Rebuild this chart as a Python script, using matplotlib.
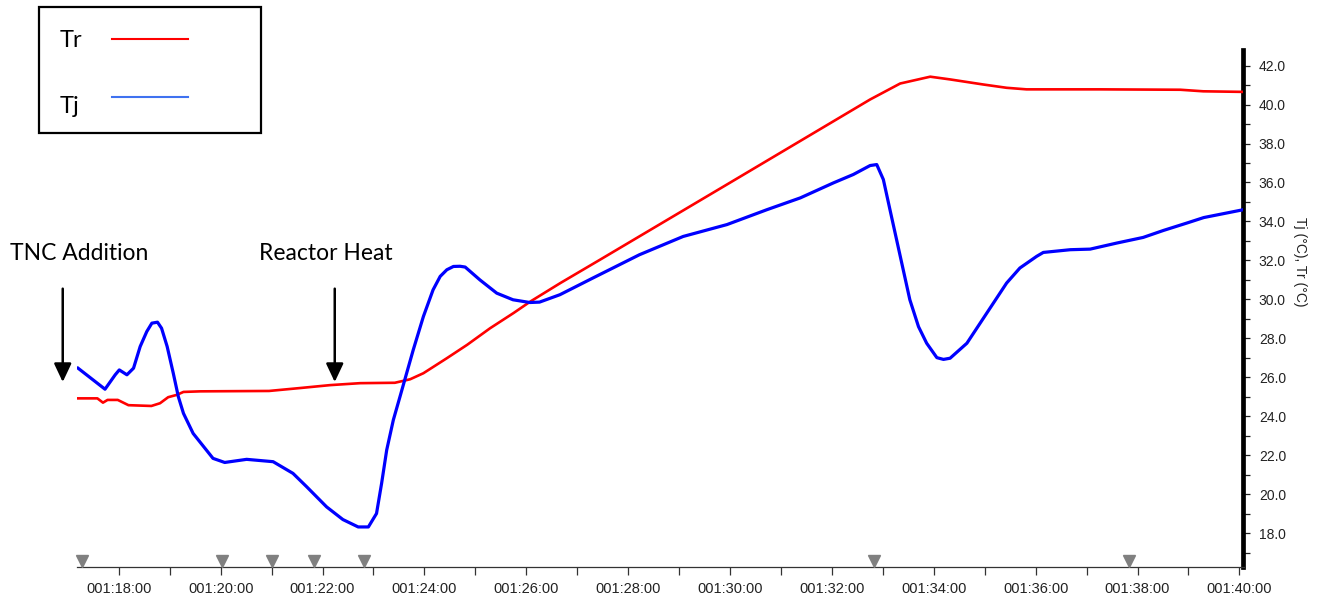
import matplotlib
matplotlib.use("Agg")
from matplotlib import pyplot as plt
from matplotlib.lines import Line2D
from matplotlib.patches import Rectangle
from matplotlib.ticker import MultipleLocator, FuncFormatter
import matplotlib.transforms as mtransforms

# time in minutes, temperatures in degC
tr_time = [17.18, 17.58, 17.69, 17.78, 17.98, 18.19, 18.64, 18.81, 18.97, 19.14,
           19.27, 19.60, 20.95, 21.56, 22.15, 22.74, 23.42, 23.72, 23.98, 24.44,
           24.84, 25.29, 25.75, 26.08, 26.67, 27.45, 29.98, 32.75, 33.34, 33.93,
           34.32, 34.97, 35.43, 35.82, 37.26, 38.84, 39.29, 40.08]
tr_temp = [24.92, 24.92, 24.70, 24.84, 24.84, 24.57, 24.53, 24.67, 24.98, 25.10,
           25.25, 25.28, 25.30, 25.45, 25.60, 25.70, 25.72, 25.90, 26.21, 26.98,
           27.67, 28.52, 29.30, 29.89, 30.84, 32.04, 35.96, 40.26, 41.08, 41.43,
           41.29, 41.03, 40.86, 40.78, 40.78, 40.76, 40.68, 40.65]

tj_time = [17.20, 17.73, 17.93, 18.01, 18.16, 18.29, 18.42, 18.55, 18.65, 18.76,
           18.84, 18.95, 19.07, 19.17, 19.27, 19.46, 19.85, 20.08, 20.51, 21.03,
           21.42, 21.69, 22.08, 22.40, 22.70, 22.90, 23.06, 23.16, 23.26, 23.39,
           23.52, 23.78, 23.98, 24.17, 24.31, 24.44, 24.57, 24.70, 24.80, 25.09,
           25.42, 25.74, 26.07, 26.26, 26.66, 27.31, 28.22, 29.08, 29.94, 30.72,
           31.38, 32.03, 32.42, 32.75, 32.88, 33.01, 33.14, 33.27, 33.40, 33.53,
           33.70, 33.86, 34.06, 34.19, 34.32, 34.65, 34.91, 35.17, 35.43, 35.69,
           36.02, 36.15, 36.68, 37.07, 37.59, 38.11, 38.51, 38.97, 39.30, 40.07]
tj_temp = [26.47, 25.39, 26.13, 26.38, 26.13, 26.47, 27.58, 28.35, 28.78, 28.83,
           28.52, 27.58, 26.21, 25.00, 24.15, 23.12, 21.84, 21.63, 21.79, 21.67,
           21.07, 20.38, 19.35, 18.70, 18.32, 18.32, 19.01, 20.56, 22.27, 23.81,
           25.00, 27.40, 29.12, 30.49, 31.18, 31.52, 31.69, 31.70, 31.66, 31.00,
           30.32, 29.98, 29.84, 29.86, 30.24, 31.10, 32.29, 33.23, 33.84, 34.60,
           35.21, 35.98, 36.41, 36.87, 36.92, 36.15, 34.60, 33.06, 31.52, 29.98,
           28.60, 27.75, 27.01, 26.92, 26.98, 27.75, 28.78, 29.81, 30.84, 31.61,
           32.21, 32.41, 32.55, 32.58, 32.89, 33.18, 33.54, 33.92, 34.20, 34.60]

# event markers along the time axis
event_time = [17.27, 20.02, 21.01, 21.83, 22.81, 32.82, 37.84]

# annotations: (label, arrow x, text x)
notes = [("TNC Addition", 16.90, 17.23),
         ("Reactor Heat", 22.24, 22.07)]
note_text_y = 32.34
arrow_top = 30.55
arrow_tip = 25.76

fig = plt.figure(figsize=(13.23, 6.13), dpi=100)
ax = fig.add_axes([77 / 1323, 1 - 566.7 / 613, (1243.5 - 77) / 1323, (566.7 - 50) / 613])

ax.plot(tr_time, tr_temp, color="#ff0000", lw=1.9, zorder=3)
ax.plot(tj_time, tj_temp, color="#0000ff", lw=2.3, zorder=3)

ax.set_xlim(17.18, 40.08)
ax.set_ylim(16.28, 42.8)

# axes styling: only bottom and right
ax.spines["left"].set_visible(False)
ax.spines["top"].set_visible(False)
ax.spines["right"].set_linewidth(3.4)
ax.spines["right"].set_color("black")
ax.spines["bottom"].set_linewidth(0.9)
ax.spines["bottom"].set_color("#333333")

ax.yaxis.tick_right()
ax.yaxis.set_major_locator(MultipleLocator(2))
ax.yaxis.set_minor_locator(MultipleLocator(1))
ax.yaxis.set_major_formatter(FuncFormatter(lambda v, p: "%.1f" % v))
ax.tick_params(axis="y", which="both", direction="out", length=5, width=0.9,
               color="#222222", labelsize=10, labelcolor="#222222", pad=6)

ax.xaxis.set_major_locator(MultipleLocator(2))
ax.xaxis.set_minor_locator(MultipleLocator(1))
ax.xaxis.set_major_formatter(FuncFormatter(lambda v, p: "001:%02d:00" % int(round(v))))
ax.tick_params(axis="x", which="both", direction="out", length=6, width=0.9,
               color="#333333", labelsize=10.5, labelcolor="#222222", pad=5)
for lab in ax.get_xticklabels() + ax.get_yticklabels():
    lab.set_fontfamily("Liberation Sans")

fig.text(1300 / 1323, 1 - 262 / 613, "Tj (°C), Tr (°C)", rotation=270,
         ha="center", va="center", fontsize=10, color="#222222", family="Liberation Sans")

# event triangles sitting on the time axis
trans = mtransforms.blended_transform_factory(ax.transData, ax.transAxes)
ax.plot(event_time, [0.011] * len(event_time), linestyle="none", marker="v",
        markersize=8, color="#808080", transform=trans, clip_on=False, zorder=4)

# arrows with labels
for label, ax_x, tx in notes:
    ax.annotate("", xy=(ax_x, arrow_tip), xytext=(ax_x, arrow_top),
                arrowprops=dict(arrowstyle="-|>,head_length=0.7,head_width=0.33",
                                color="black", lw=1.8, mutation_scale=16,
                                shrinkA=0, shrinkB=0),
                annotation_clip=False)
    ax.text(tx, note_text_y, label, ha="center", va="center", fontsize=16.5,
            family="Lato", color="black", clip_on=False)

# legend box drawn by hand (text first, line after)
W, H = 1323.0, 613.0
fig.patches.append(Rectangle((39 / W, 1 - 133 / H), 222 / W, 126 / H,
                             transform=fig.transFigure, fill=False,
                             edgecolor="black", lw=1.6))
fig.text(60 / W, 1 - 47 / H, "Tr", fontsize=17, family="Lato", va="baseline")
fig.text(60 / W, 1 - 113 / H, "Tj", fontsize=17, family="Lato", va="baseline")
fig.lines.append(Line2D([112 / W, 188 / W], [1 - 39 / H, 1 - 39 / H],
                        transform=fig.transFigure, color="#ff0000", lw=1.5))
fig.lines.append(Line2D([112 / W, 188 / W], [1 - 97 / H, 1 - 97 / H],
                        transform=fig.transFigure, color="#3f72f0", lw=1.5))

fig.savefig("out.png", dpi=100)
